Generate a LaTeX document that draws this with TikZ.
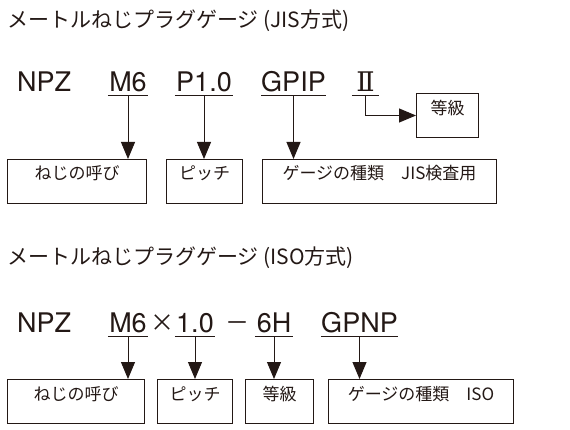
\documentclass[tikz,border=0pt]{standalone}
\usepackage{fontspec}
\setmainfont{Noto Sans CJK JP}
\newfontfamily\latinfont{TeX Gyre Heros}
\newfontfamily\romanfont{DejaVu Serif}
\usetikzlibrary{arrows.meta}
\definecolor{ink}{HTML}{231815}
\begin{document}
\begin{tikzpicture}[x=1pt,y=-1pt,
  title/.style={anchor=west, inner sep=0, font=\fontsize{21}{24}\selectfont, text=ink},
  code/.style={anchor=base, inner sep=0, font=\latinfont\fontsize{27}{30}\selectfont, text=ink},
  ul/.style={draw=ink, line width=1pt},
  arr/.style={draw=ink, line width=1pt, -{Triangle[width=14pt,length=17pt]}},
  box/.style={draw=ink, line width=1pt, anchor=north west, inner sep=0, minimum height=44pt,
    text height=20.5pt, text depth=23.5pt, font=\fontsize{17}{20}\selectfont, text=ink},
]
\useasboundingbox (0,0) rectangle (570,430);
% ---------- JIS ----------
\node[title] (t1) at (7,21) {メートルねじプラグゲージ (JIS方式)};
\node[code, anchor=base west] (npz1) at (17,92) {NPZ};
\node[code, minimum width=40pt] (m6a) at (128,92) {M6};
\node[code, minimum width=58pt] (p10) at (204,92) {P1.0};
\node[code, minimum width=63pt] (gpip) at (293.5,92) {GPIP};
\node[code, font=\romanfont\fontsize{27}{30}\selectfont, minimum width=27pt] (r2) at (365.5,92) {Ⅱ};
\foreach \n in {m6a,p10,gpip,r2}
  \draw[ul] ([yshift=-4pt]\n.base west) -- ([yshift=-4pt]\n.base east);
\node[box, minimum width=139pt] (b1) at (7,159) {ねじの呼び};
\node[box, minimum width=76pt] (b2) at (166,159) {ピッチ};
\node[box, minimum width=234pt] (b3) at (262,159) {ゲージの種類\hspace{1em}JIS検査用};
\node[box, minimum width=62pt, text height=21.5pt, text depth=22.5pt] (g1) at (416,93) {等級};
\draw[arr] ([yshift=-4pt]m6a.base) -- (m6a.base |- b1.north);
\draw[arr] ([yshift=-4pt]p10.base) -- (p10.base |- b2.north);
\draw[arr] ([yshift=-4pt]gpip.base) -- (gpip.base |- b3.north);
\draw[arr] ([yshift=-4pt]r2.base) |- (g1.west);
% ---------- ISO ----------
\node[title] (t2) at (7,258) {メートルねじプラグゲージ (ISO方式)};
\node[code, anchor=base west] (npz2) at (17,332) {NPZ};
\node[code, minimum width=40pt] (m6b) at (128,332) {M6};
\node[code, font=\fontsize{24}{30}\selectfont] (times) at (162,331) {×};
\node[code, font=\fontsize{24}{30}\selectfont] (minus) at (237,331) {－};
\node[code, minimum width=40pt] (one) at (195,332) {1.0};
\node[code, minimum width=38pt] (sixh) at (274,332) {6H};
\node[code, minimum width=77pt] (gpnp) at (359.5,332) {GPNP};
\foreach \n in {m6b,one,sixh,gpnp}
  \draw[ul] ([yshift=-4pt]\n.base west) -- ([yshift=-4pt]\n.base east);
\node[box, minimum width=137pt] (c1) at (7,379) {ねじの呼び};
\node[box, minimum width=75pt] (c2) at (157,379) {ピッチ};
\node[box, minimum width=68pt] (c3) at (245,379) {等級};
\node[box, minimum width=185pt] (c4) at (328,379) {ゲージの種類\hspace{1em}ISO};
\draw[arr] ([yshift=-4pt]m6b.base) -- (m6b.base |- c1.north);
\draw[arr] ([yshift=-4pt]one.base) -- (one.base |- c2.north);
\draw[arr] ([yshift=-4pt]sixh.base) -- (sixh.base |- c3.north);
\draw[arr] ([yshift=-4pt]gpnp.base) -- (gpnp.base |- c4.north);
\end{tikzpicture}
\end{document}
